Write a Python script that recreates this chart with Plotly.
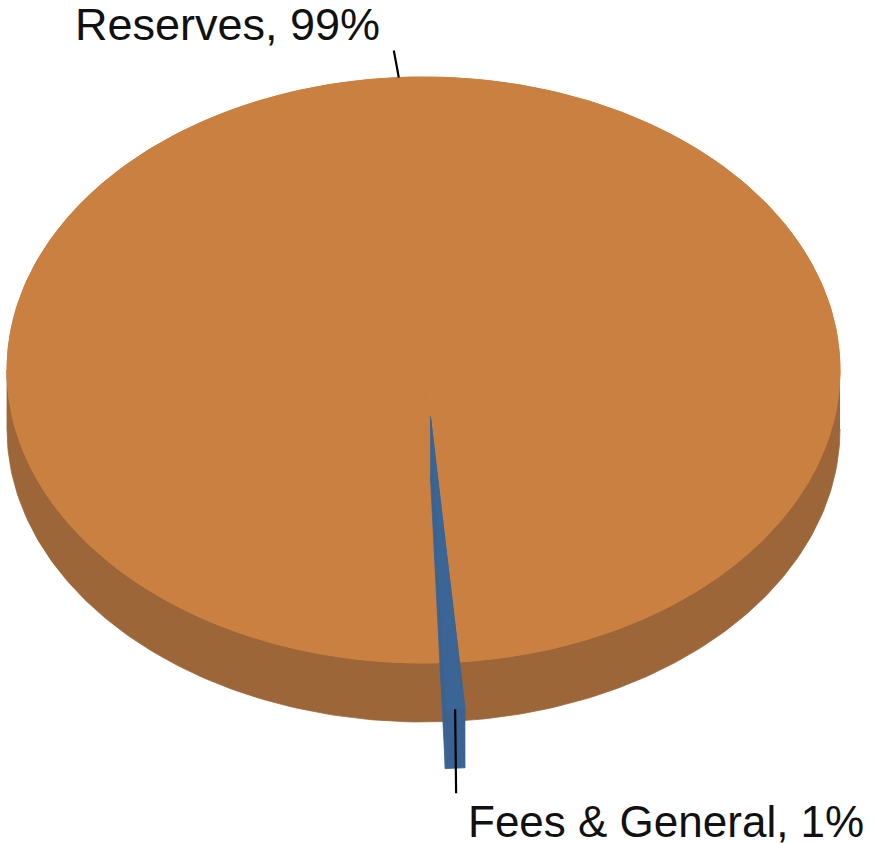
import numpy as np
import plotly.graph_objects as go

# ---- data ----
labels = ["Fees & General", "Reserves"]
values = [0.75, 99.25]
top_colors = ["#3A6594", "#C98040"]
side_colors = ["#3A6392", "#9C6638"]
explode = [True, False]

# ---- geometry (pixel frame) ----
W, H = 876, 843
cx, cy, rx, ry = 423.5, 370.0, 416.5, 293.0
depth = 59.0
start_deg = 85.25          # first slice start angle (screen coords, y down, clockwise)
explode_fx, explode_fy = 0.28, 0.16

total = float(sum(values))
spans = [v / total * 360.0 for v in values]

fig = go.Figure()


def pt(th_deg, ox=0.0, oy=0.0, down=0.0):
    t = np.radians(th_deg)
    return cx + rx * np.cos(t) + ox, cy + ry * np.sin(t) + oy + down


def poly(xs, ys, color):
    fig.add_trace(go.Scatter(x=list(xs), y=list(ys), mode="lines", fill="toself",
                             fillcolor=color, line=dict(color=color, width=0.8),
                             hoverinfo="skip", showlegend=False))


def arc(a, b, ox, oy, down=0.0, n=200):
    th = np.linspace(a, b, n)
    return pt(th, ox, oy, down)


slices = []
a = start_deg
for i, s in enumerate(spans):
    b = a + s
    mid = (a + b) / 2
    if explode[i]:
        t = np.radians(mid)
        ox, oy = rx * explode_fx * np.cos(t), ry * explode_fy * np.sin(t)
    else:
        ox, oy = 0.0, 0.0
    slices.append((a, b, mid, ox, oy))
    a = b

body = [i for i in range(len(values)) if not explode[i]]
pulled = [i for i in range(len(values)) if explode[i]]

# body: front wall and full top (gaps left by pulled slices look filled)
bx1, by1 = arc(0.0, 180.0, 0, 0)
bx2, by2 = arc(180.0, 0.0, 0, 0, depth)
poly(np.concatenate([bx1, bx2]), np.concatenate([by1, by2]), side_colors[body[0]])
tx, ty = arc(0.0, 360.0, 0, 0, n=400)
poly(tx, ty, top_colors[body[0]])
for i in body:
    a, b, mid, ox, oy = slices[i]
    xs, ys = arc(a, b, ox, oy)
    poly(np.concatenate([[cx], xs, [cx]]), np.concatenate([[cy], ys, [cy]]), top_colors[i])

# pulled-out slices in front
for i in pulled:
    a, b, mid, ox, oy = slices[i]
    for ang in (a, b):
        px, py = pt(ang, ox, oy)
        poly([cx + ox, px, px, cx + ox], [cy + oy, py, py + depth, cy + oy + depth], side_colors[i])
    for k in range(-1, 3):
        lo, hi = max(a, 360 * k), min(b, 360 * k + 180)
        if hi > lo:
            x1, y1 = arc(lo, hi, ox, oy)
            x2, y2 = arc(hi, lo, ox, oy, depth)
            poly(np.concatenate([x1, x2]), np.concatenate([y1, y2]), side_colors[i])
    xs, ys = arc(a, b, ox, oy)
    poly(np.concatenate([[cx + ox], xs, [cx + ox]]), np.concatenate([[cy + oy], ys, [cy + oy]]), top_colors[i])

# leader lines and labels
for i in range(len(values)):
    a, b, mid, ox, oy = slices[i]
    pct = round(values[i] / total * 100)
    text = f"{labels[i]}, {pct}%"
    x0, y0 = pt(mid, ox, oy)
    if np.sin(np.radians(mid)) < 0:   # top side
        x1, y1 = x0 - 5, y0 - 27
        fig.add_trace(go.Scatter(x=[x0, x1], y=[y0, y1], mode="lines",
                                 line=dict(color="black", width=2.2), hoverinfo="skip", showlegend=False))
        fig.add_annotation(x=x1 - 12, y=y1 - 26, text=text, showarrow=False,
                           xanchor="right", yanchor="middle",
                           font=dict(family="Liberation Sans, Arial", size=45, color="#111111"))
    else:
        x1, y1 = x0 + 1, y0 + 84
        fig.add_trace(go.Scatter(x=[x0, x1], y=[y0, y1], mode="lines",
                                 line=dict(color="black", width=2.2), hoverinfo="skip", showlegend=False))
        fig.add_annotation(x=x1 + 11, y=y1 + 3, text=text, showarrow=False,
                           xanchor="left", yanchor="top", borderpad=0,
                           font=dict(family="Liberation Sans, Arial", size=44, color="#111111"))

fig.update_layout(
    width=W, height=H, margin=dict(l=0, r=0, t=0, b=0),
    paper_bgcolor="white", plot_bgcolor="white",
    xaxis=dict(range=[0, W], visible=False, fixedrange=True),
    yaxis=dict(range=[H, 0], visible=False, fixedrange=True),
    showlegend=False,
)

fig.write_html("out.html", config={"displayModeBar": False},
               post_script="document.body.style.margin='0';document.body.style.overflow='hidden';")
